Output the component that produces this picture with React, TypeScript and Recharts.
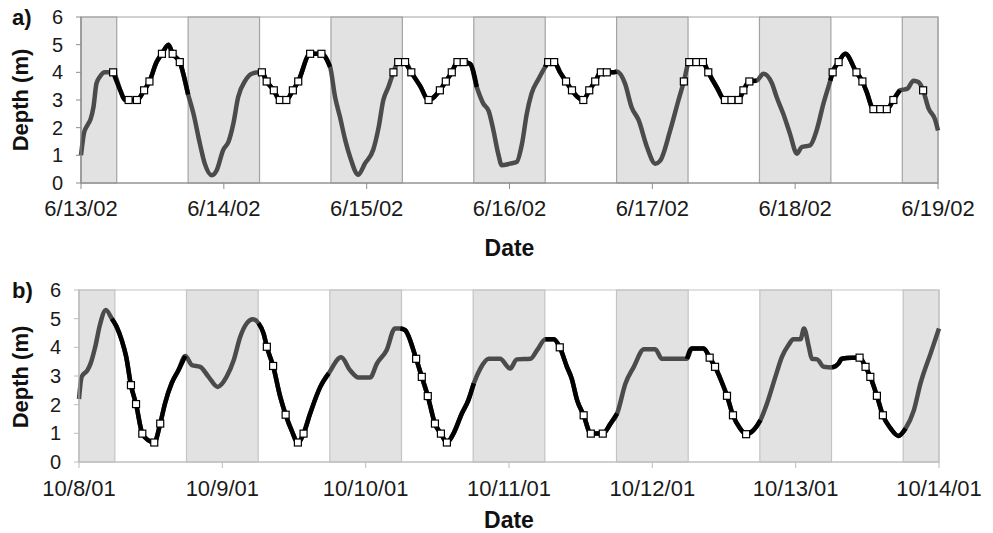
import React from 'react';
import { ComposedChart, Line, Scatter, XAxis, YAxis, ReferenceArea, Label } from 'recharts';

const FONT = '"Liberation Sans", Arial, sans-serif';

const dayTicks = [0, 24, 48, 72, 96, 120, 144];
const datesA = ['6/13/02', '6/14/02', '6/15/02', '6/16/02', '6/17/02', '6/18/02', '6/19/02'];
const datesB = ['10/8/01', '10/9/01', '10/10/01', '10/11/01', '10/12/01', '10/13/01', '10/14/01'];
const depthTicks = [0, 1, 2, 3, 4, 5, 6];
// night (shaded) periods, hours from start of first date
const nightBands = [[0, 6], [18, 30], [42, 54], [66, 78], [90, 102], [114, 126], [138, 144]];

// a) June 2002 trace
const hoursA = [
  0, 0.5, 1.1, 1.6, 2.1, 2.6, 3.2, 4.0, 5.4, 6.6, 7.4, 8.0, 9.4, 10.6, 11.5, 12.7, 13.6, 14.7, 15.4, 16.6,
  18.0, 18.9, 20.0, 20.8, 22.0, 22.8, 23.9, 24.8, 25.6, 26.4, 27.6, 28.7, 29.8, 30.4, 31.2, 32.4, 33.4, 34.5,
  35.6, 36.5, 38.5, 40.4, 41.85, 42.7, 43.5, 44.4, 45.2, 46.6, 47.7, 49.1, 50.0, 50.8, 51.65, 52.5, 53.3, 54.45,
  55.5, 57.0, 58.4, 60.3, 61.3, 62.3, 63.25, 64.3, 65.4, 66.5, 67.6, 68.5, 69.3, 70.1, 70.7, 72.1, 73.2, 74.1,
  74.9, 75.7, 76.9, 78.0, 78.5, 79.5, 80.5, 81.5, 82.5, 83.5, 84.4, 85.4, 86.4, 87.35, 88.35, 89.5, 90.0, 91.4,
  92.5, 93.7, 95.1, 96.5, 97.3, 99.0, 100.4, 101.3, 102.2, 103.4, 104.5, 105.4, 106.8, 108.2, 109.3, 110.5,
  111.3, 112.3, 113.5, 114.7, 116.1, 116.9, 118.0, 119.1, 120.3, 121.1, 122.5, 123.6, 124.75, 125.9, 126.3,
  127.3, 128.4, 130.3, 131.3, 132.0, 133.15, 134.3, 135.4, 136.5, 137.6, 138.8, 139.9, 140.7, 141.5, 142.4,
  143.5, 144.0,
];
const depthA = [
  1.0, 1.8, 2.1, 2.3, 2.75, 3.6, 3.85, 4.0, 4.0, 3.35, 3.0, 3.0, 3.0, 3.35, 3.67, 4.37, 4.67, 5.0, 4.67, 4.37,
  3.2, 2.5, 1.4, 0.7, 0.28, 0.46, 1.2, 1.5, 2.15, 3.1, 3.7, 3.95, 4.0, 4.0, 3.67, 3.35, 3.0, 3.0,
  3.35, 3.67, 4.67, 4.67, 4.2, 3.1, 2.4, 1.55, 0.95, 0.3, 0.7, 1.2, 2.0, 3.0, 3.47, 4.0, 4.37, 4.37,
  4.0, 3.5, 3.0, 3.35, 3.67, 4.0, 4.37, 4.37, 4.3, 3.47, 2.87, 2.6, 1.9, 1.06, 0.64, 0.7, 0.76, 1.42,
  2.5, 3.23, 3.77, 4.2, 4.37, 4.37, 4.0, 3.67, 3.35, 3.1, 3.0, 3.35, 3.67, 4.0, 4.0, 4.0, 4.03, 3.6,
  2.75, 2.27, 1.3, 0.7, 0.8, 1.9, 3.0, 3.67, 4.37, 4.37, 4.37, 4.0, 3.47, 3.0, 3.0, 3.0,
  3.35, 3.67, 3.7, 3.95, 3.6, 3.1, 2.5, 1.8, 1.06, 1.3, 1.36, 1.9, 2.87, 3.7, 4.0,
  4.37, 4.67, 4.0, 3.67, 3.3, 2.67, 2.67, 2.67, 3.0, 3.35, 3.4, 3.7, 3.65, 3.35, 2.7,
  2.3, 1.9,
];
const markerHoursA = [
  5.4, 8.0, 9.4, 10.6, 11.5, 13.6, 15.4, 16.6, 30.4, 31.2, 32.4, 33.4, 34.5, 35.6, 36.5, 38.5, 40.4,
  52.5, 53.3, 54.45, 55.5, 58.4, 60.3, 61.3, 62.3, 63.25, 64.3, 78.5, 79.5, 81.5, 82.5, 84.4, 85.4, 86.4,
  87.35, 88.35, 101.3, 102.2, 103.4, 104.5, 105.4, 108.2, 109.3, 110.5, 111.3, 112.3, 126.3, 127.3, 130.3,
  131.3, 133.15, 134.3, 135.4, 136.5, 141.5,
];
const markerDepthA = [
  4.0, 3.0, 3.0, 3.35, 3.67, 4.67, 4.67, 4.37, 4.0, 3.67, 3.35, 3.0, 3.0, 3.35, 3.67, 4.67, 4.67,
  4.0, 4.37, 4.37, 4.0, 3.0, 3.35, 3.67, 4.0, 4.37, 4.37, 4.37, 4.37, 3.67, 3.35, 3.0, 3.35, 3.67,
  4.0, 4.0, 3.67, 4.37, 4.37, 4.37, 4.0, 3.0, 3.0, 3.0, 3.35, 3.67, 4.0, 4.37, 4.0,
  3.67, 2.67, 2.67, 2.67, 3.0, 3.35,
];

// b) October 2001 trace
const hoursB = [
  0, 0.45, 1.4, 1.95, 2.7, 3.5, 4.5, 5.5, 6.3, 7.15, 7.9, 8.7, 9.55, 10.6, 11.6, 12.6, 13.6, 14.4, 15.5, 16.65,
  17.8, 18.9, 20.3, 21.7, 23.2, 24.7, 25.9, 27.0, 28.1, 29.1, 30.06, 30.9, 31.45, 32.5, 33.7, 34.6, 35.6, 36.65,
  37.6, 38.7, 40.4, 41.8, 43.9, 45.4, 46.8, 48.75, 49.9, 51.5, 52.9, 53.8, 54.6, 56.45, 57.4, 58.4, 59.6, 60.6,
  61.6, 62.7, 64.1, 65.2, 66.1, 67.2, 68.6, 70.5, 72.2, 73.3, 75.6, 76.7, 78.1, 79.5, 80.5, 81.7, 82.5, 83.4,
  84.5, 85.7, 87.7, 89.0, 90.1, 91.5, 92.9, 94.6, 96.5, 97.6, 99.0, 101.8, 102.6, 104.6, 105.6, 106.5, 107.6,
  108.5, 109.5, 110.7, 111.7, 112.9, 114.1, 115.2, 116.6, 117.7, 118.8, 119.6, 120.8, 121.4, 122.2, 122.7,
  123.6, 124.7, 126.1, 127.2, 127.7, 129.4, 130.7, 131.7, 132.5, 133.6, 134.6, 135.9, 137.2, 138.4, 139.8,
  140.9, 142.6, 144.0,
];
const depthB = [
  2.2, 2.97, 3.2, 3.44, 4.0, 4.78, 5.3, 5.0, 4.72, 4.25, 3.67, 2.68, 2.02, 0.99, 0.76, 0.68, 1.34, 2.04, 2.74, 3.2,
  3.7, 3.38, 3.32, 2.97, 2.62, 2.97, 3.55, 4.37, 4.84, 4.98, 4.84, 4.49, 4.02, 3.35, 2.27, 1.65, 1.1, 0.68,
  0.99, 1.69, 2.62, 3.09, 3.65, 3.2, 2.95, 2.95, 3.44, 3.9, 4.66, 4.66, 4.6, 3.6, 2.97, 2.3, 1.34, 0.99,
  0.68, 0.99, 1.69, 2.16, 2.74, 3.26, 3.6, 3.6, 3.26, 3.58, 3.6, 3.9, 4.28, 4.28, 4.0, 3.32, 2.91, 2.16,
  1.63, 0.99, 0.99, 1.34, 1.69, 2.74, 3.32, 3.93, 3.93, 3.6, 3.6, 3.6, 3.96, 3.96, 3.64, 3.32, 2.8,
  2.31, 1.63, 1.17, 0.97, 1.1, 1.46, 2.04, 2.97, 3.67, 4.08, 4.28, 4.28, 4.66, 4.02, 3.6,
  3.58, 3.32, 3.3, 3.44, 3.6, 3.64, 3.64, 3.32, 2.97, 2.31, 1.63, 1.17, 0.91, 1.17, 1.81,
  2.74, 3.79, 4.66,
];
const markerHoursB = [
  8.7, 9.55, 10.6, 12.6, 13.6, 31.45, 32.5, 34.6, 36.65, 37.6, 56.45, 57.4, 58.4, 59.6, 60.6, 61.6,
  80.5, 84.5, 85.7, 87.7, 105.6, 106.5, 108.5, 109.5, 111.7, 130.7, 131.7, 132.5, 133.6, 134.6,
];
const markerDepthB = [
  2.68, 2.02, 0.99, 0.68, 1.34, 4.02, 3.35, 1.65, 0.68, 0.99, 3.6, 2.97, 2.3, 1.34, 0.99, 0.68,
  4.0, 1.63, 0.99, 0.99, 3.64, 3.32, 2.31, 1.63, 0.97, 3.64, 3.32, 2.97, 2.31, 1.63,
];

function isDay(t: number) {
  const h = t % 24;
  return h >= 5.3 && h <= 18.5;
}

const Square = (props: any) => {
  const { cx, cy } = props;
  if (cx == null || cy == null) return <g />;
  return <rect x={cx - 3.5} y={cy - 3.5} width={7} height={7} fill="#fff" stroke="#000" strokeWidth={1.2} />;
};

interface PanelProps {
  tag: string;
  hours: number[];
  depth: number[];
  markerHours: number[];
  markerDepth: number[];
  dates: string[];
  top: number;
  height: number;
  marginTop: number;
  marginBottom: number;
  marginRight: number;
  yWidth: number;
  frame: string;
  axis: string;
  tickGap: number;
  dateOffset: number;
  tagTop: number;
  depthCenter: number;
}

function Panel(p: PanelProps) {
  const rows = p.hours.map((t, i) => ({ t, all: p.depth[i], day: isDay(t) ? p.depth[i] : null }));
  const marks = p.markerHours.map((t, i) => ({ t, m: p.markerDepth[i] }));
  return (
    <div style={{ position: 'absolute', left: 0, top: p.top, width: 993, height: p.height }}>
      <ComposedChart
        width={993}
        height={p.height}
        data={rows}
        margin={{ top: p.marginTop, right: p.marginRight, bottom: p.marginBottom, left: 0 }}
      >
        {nightBands.map(([a, b]) => (
          <ReferenceArea key={a} x1={a} x2={b} y1={0} y2={6} fill="#e2e2e2" fillOpacity={1} stroke={p.frame} strokeWidth={1.2} />
        ))}
        <ReferenceArea x1={0} x2={144} y1={0} y2={6} fill="none" stroke={p.frame} strokeWidth={1.2} />
        <XAxis
          dataKey="t"
          type="number"
          domain={[0, 144]}
          ticks={dayTicks}
          interval={0}
          tickFormatter={(v: number) => p.dates[dayTicks.indexOf(v)]}
          height={40}
          tickSize={6}
          tickMargin={p.tickGap}
          stroke={p.axis}
          tick={{ fill: '#1a1a1a', fontSize: 22, fontFamily: FONT }}
        >
          <Label value="Date" position="bottom" offset={p.dateOffset} fontSize={23} fontWeight="bold" fill="#111" fontFamily={FONT} />
        </XAxis>
        <YAxis
          type="number"
          domain={[0, 6]}
          ticks={depthTicks}
          interval={0}
          width={p.yWidth}
          tickSize={5}
          tickMargin={13}
          stroke={p.axis}
          tick={{ fill: '#1a1a1a', fontSize: 20, fontFamily: FONT }}
        />
        <Line dataKey="all" type="monotone" stroke="#4b4b4b" strokeWidth={4.5} dot={false} isAnimationActive={false} />
        <Line dataKey="day" type="monotone" stroke="#000" strokeWidth={4.5} dot={false} isAnimationActive={false} />
        <Scatter data={marks} dataKey="m" shape={Square} isAnimationActive={false} />
      </ComposedChart>
      <div style={{ position: 'absolute', left: 12, top: p.tagTop, fontSize: 22, fontWeight: 'bold', lineHeight: 1, fontFamily: FONT, color: '#111' }}>
        {p.tag}
      </div>
      <div
        style={{
          position: 'absolute',
          left: 21,
          top: p.depthCenter,
          transform: 'translate(-50%, -50%) rotate(-90deg)',
          whiteSpace: 'nowrap',
          fontSize: 22,
          fontWeight: 'bold',
          lineHeight: 1,
          fontFamily: FONT,
          color: '#111',
        }}
      >
        Depth (m)
      </div>
    </div>
  );
}

export default function App() {
  return (
    <div style={{ position: 'absolute', left: 0, top: 0, width: 993, height: 533, background: '#fff' }}>
      <Panel
        tag="a)"
        hours={hoursA}
        depth={depthA}
        markerHours={markerHoursA}
        markerDepth={markerDepthA}
        dates={datesA}
        top={0}
        height={270}
        marginTop={17}
        marginBottom={47}
        marginRight={55}
        yWidth={81}
        frame="#a4a4a4"
        axis="#8c8c8c"
        tickGap={11}
        dateOffset={17}
        tagTop={7}
        depthCenter={100}
      />
      <Panel
        tag="b)"
        hours={hoursB}
        depth={depthB}
        markerHours={markerHoursB}
        markerDepth={markerDepthB}
        dates={datesB}
        top={270}
        height={263}
        marginTop={20}
        marginBottom={31}
        marginRight={54}
        yWidth={79}
        frame="#c4c4c4"
        axis="#bdbdbd"
        tickGap={12}
        dateOffset={10}
        tagTop={10}
        depthCenter={107}
      />
    </div>
  );
}
